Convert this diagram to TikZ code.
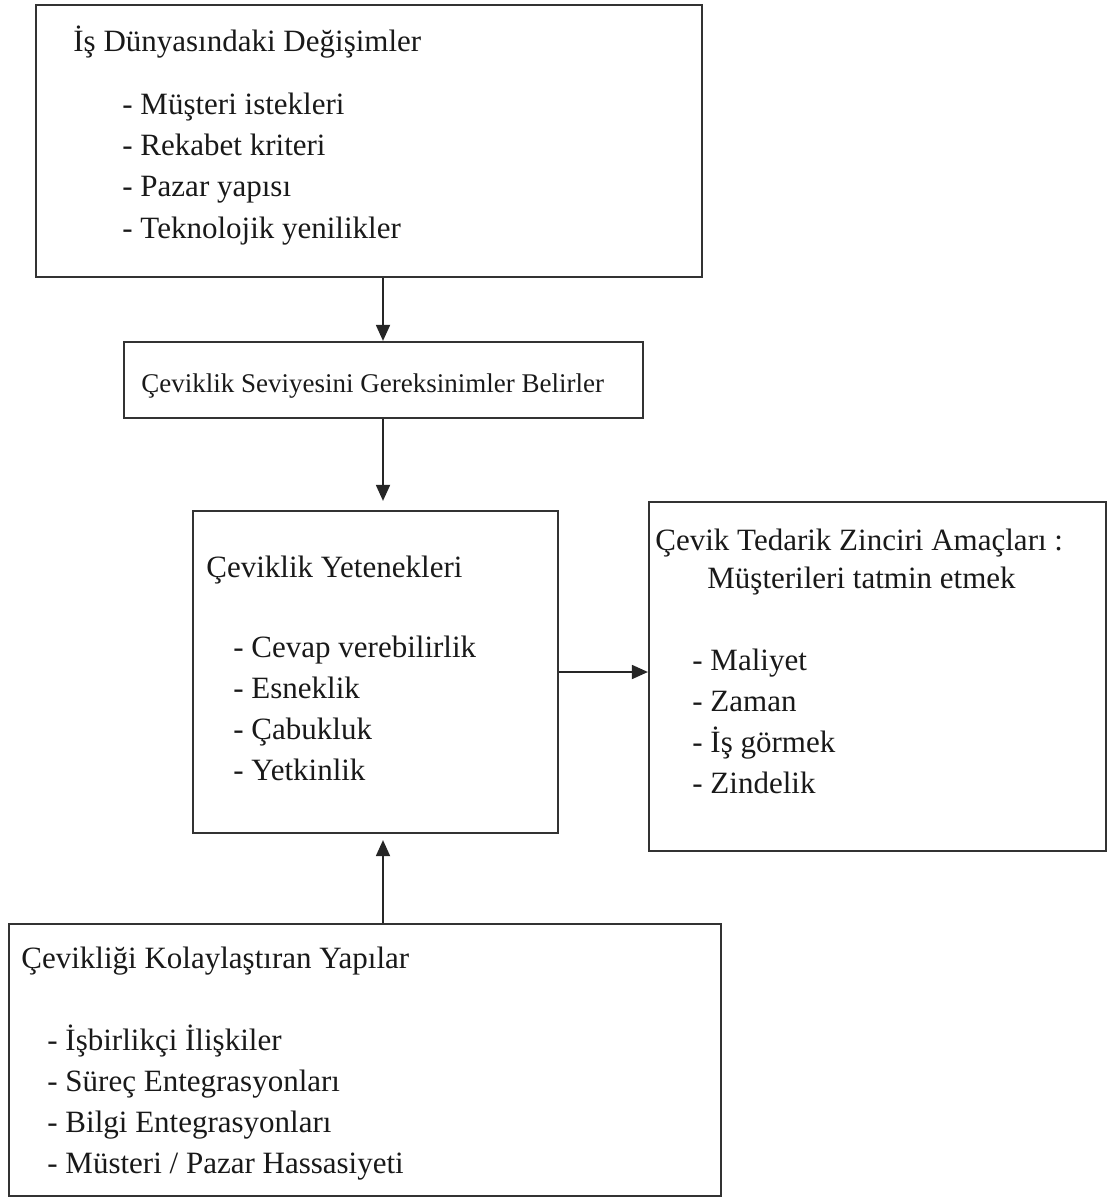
\documentclass[tikz,border=0pt]{standalone}
\usepackage{fontspec}
\setmainfont{Liberation Serif}
\usetikzlibrary{arrows.meta,fit}
\begin{document}
\begin{tikzpicture}[x=0.5pt,y=-0.5pt,
  box/.style={draw=black!80, line width=1.1pt, rectangle, inner sep=0pt},
  txt/.style={anchor=base west, inner sep=0pt, text=black!90,
              font=\fontsize{15.5pt}{20.5pt}\selectfont},
  smalltxt/.style={txt, font=\fontsize{13.5pt}{16pt}\selectfont},
  arr/.style={draw=black!85, line width=0.9pt,
              -{Triangle[length=8pt,width=7pt]}}]
\useasboundingbox (0,0) rectangle (1109,1198);

% boxes
\node[box, fit={(36,5) (702,277)}]    (top)  {};
\node[box, fit={(124,342) (643,418)}] (mid)  {};
\node[box, fit={(193,511) (558,833)}] (core) {};
\node[box, fit={(649,502) (1106,851)}] (goal) {};
\node[box, fit={(9,924) (721,1196)}]  (bot)  {};

% changes in the business world
\node[txt] (topHead) at (73,52) {İş Dünyasındaki Değişimler};
\foreach \t [count=\i] in {Müşteri istekleri, Rekabet kriteri, Pazar yapısı, Teknolojik yenilikler}
  \node[txt] (topItem\i) at (122,{115+41*(\i-1)}) {- \t};

% agility level
\node[smalltxt] (midText) at (141,392) {Çeviklik Seviyesini Gereksinimler Belirler};

% agility capabilities
\node[txt] (coreHead) at (206,577) {Çeviklik Yetenekleri};
\foreach \t [count=\i] in {Cevap verebilirlik, Esneklik, Çabukluk, Yetkinlik}
  \node[txt] (coreItem\i) at (233,{657+41*(\i-1)}) {- \t};

% goals
\node[txt] (goalHead) at (655,550) {Çevik Tedarik Zinciri Amaçları :};
\node[txt] (goalSub) at (707,588) {Müşterileri tatmin etmek};
\foreach \t [count=\i] in {Maliyet, Zaman, İş görmek, Zindelik}
  \node[txt] (goalItem\i) at (692,{670+41*(\i-1)}) {- \t};

% enablers
\node[txt] (botHead) at (21,968) {Çevikliği Kolaylaştıran Yapılar};
\foreach \t [count=\i] in {İşbirlikçi İlişkiler, Süreç Entegrasyonları, Bilgi Entegrasyonları, Müsteri / Pazar Hassasiyeti}
  \node[txt] (botItem\i) at (47,{1050+41*(\i-1)}) {- \t};

% connectors
\coordinate (col) at (383,0);
\draw[arr] (col |- top.south) -- (col |- mid.north);
\draw[arr, shorten >=4.5pt] (col |- mid.south) -- (col |- core.north);
\draw[arr, shorten >=3pt] (col |- bot.north) -- (col |- core.south);
\draw[arr] (core.east) -- (core.east -| goal.west);
\end{tikzpicture}
\end{document}
